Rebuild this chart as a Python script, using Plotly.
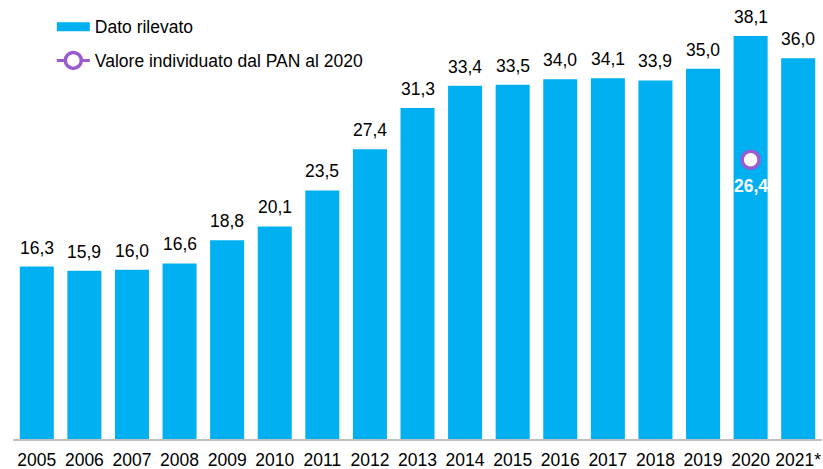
import plotly.graph_objects as go

years = ["2005", "2006", "2007", "2008", "2009", "2010", "2011", "2012", "2013",
         "2014", "2015", "2016", "2017", "2018", "2019", "2020", "2021*"]
values = [16.3, 15.9, 16.0, 16.6, 18.8, 20.1, 23.5, 27.4, 31.3,
          33.4, 33.5, 34.0, 34.1, 33.9, 35.0, 38.1, 36.0]
pan_year = ["2020"]
pan_value = [26.4]

bar_name = "Dato rilevato"
pan_name = "Valore individuato dal PAN al 2020"

BLUE = "#00B0F0"
PURPLE = "#9B5BD0"
FONT = "Liberation Sans, Arial, sans-serif"
FS = 17.5

def fmt(v):
    return f"{v:.1f}".replace(".", ",")

fig = go.Figure()

fig.add_trace(go.Bar(
    x=years, y=values, name=bar_name, showlegend=False,
    marker=dict(color=BLUE, line=dict(width=0)),
    hoverinfo="x+y",
))

# legend proxy for the bar series (wide flat swatch as in the original)
fig.add_trace(go.Scatter(
    x=[None], y=[None], mode="lines", name=bar_name,
    line=dict(color=BLUE, width=9), legendgroup="a",
))

fig.add_trace(go.Scatter(
    x=pan_year, y=pan_value, name=pan_name, mode="lines+markers",
    marker=dict(symbol="circle", size=17, color="#FFFFFF",
                line=dict(color=PURPLE, width=3.5)),
    line=dict(color=PURPLE, width=3),
    legendgroup="b",
))

# category axes: annotations are placed by category index
annotations = []
for i, v in enumerate(values):
    annotations.append(dict(
        x=i, y=v, xref="x", yref="y", text=fmt(v), showarrow=False,
        xanchor="center", yanchor="bottom", yshift=7,
        font=dict(size=FS, family=FONT, color="#000000"),
    ))
for yr, v in zip(pan_year, pan_value):
    annotations.append(dict(
        x=years.index(yr), y=v, xref="x", yref="y", text="<b>" + fmt(v) + "</b>",
        showarrow=False, xanchor="center", yanchor="top", yshift=-14,
        font=dict(size=FS, family=FONT, color="#FFFFFF"),
    ))

fig.update_layout(
    width=823, height=469,
    margin=dict(l=13, r=1, t=0, b=30),
    paper_bgcolor="#FFFFFF", plot_bgcolor="#FFFFFF",
    font=dict(family=FONT, size=FS, color="#000000"),
    bargap=0.285,
    showlegend=True,
    annotations=annotations,
    legend=dict(
        x=0.048, y=0.98, xanchor="left", yanchor="top",
        bgcolor="rgba(255,255,255,0)", font=dict(size=FS, family=FONT),
        itemwidth=33, tracegroupgap=8, traceorder="grouped",
    ),
    xaxis=dict(
        type="category", showgrid=False, zeroline=False,
        range=[-0.5, len(years) - 0.5],
        showline=True, linecolor="#BFBFBF", linewidth=1.5,
        ticks="", ticklabelstandoff=4,
        tickfont=dict(size=FS, family=FONT, color="#000000"),
    ),
    yaxis=dict(
        range=[0, 41.5], visible=False, showgrid=False, zeroline=False,
    ),
)

fig.write_html("out.html", config={"displayModeBar": False},
               post_script="document.body.style.margin='0';")
